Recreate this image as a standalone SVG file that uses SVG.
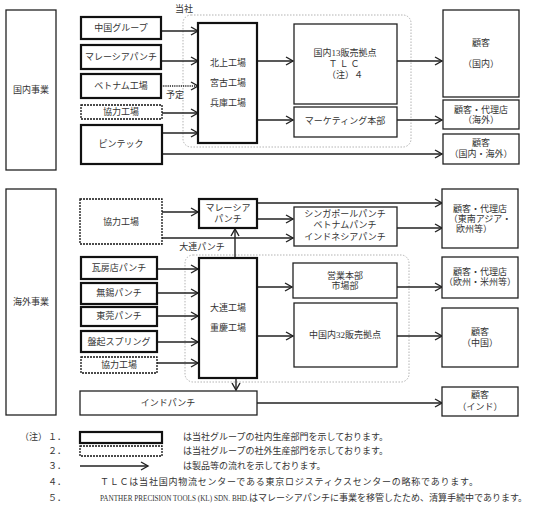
<svg xmlns="http://www.w3.org/2000/svg" width="550" height="507" viewBox="0 0 550 507">
<style>
text{font-family:"Liberation Serif","Noto Sans CJK JP",serif;font-size:9px;fill:#333;text-anchor:middle;dominant-baseline:central}
.l{text-anchor:start}
.thick{fill:#fff;stroke:#111;stroke-width:2.2}
.norm{fill:#fff;stroke:#222;stroke-width:1.3}
.dash{fill:#fff;stroke:#111;stroke-width:1.3;stroke-dasharray:2 1}
.grp{fill:none;stroke:#aaa;stroke-width:0.9;stroke-dasharray:1.5 1.5}
.c{fill:none;stroke:#222;stroke-width:1.4;marker-end:url(#ah)}
.dot{stroke-dasharray:1.2 1}
</style>
<defs>
<marker id="ah" markerUnits="userSpaceOnUse" markerWidth="9" markerHeight="9" refX="7" refY="4" orient="auto" overflow="visible">
<path d="M0,0 L7,4 L0,8" fill="none" stroke="#222" stroke-width="1.4"/>
</marker>
</defs>

<!-- group frames -->
<g id="frame-tosha">
<rect class="grp" x="183" y="15" width="228" height="132" rx="8"/>
<text x="184" y="9">当社</text>
</g>
<g id="frame-dalian">
<rect class="grp" x="185" y="255" width="224" height="127" rx="8"/>
<text x="202" y="247">大連パンチ</text>
</g>

<!-- connectors -->
<g id="connectors">
<path class="c" d="M161,31 H198"/>
<path class="c" d="M161,61 H198"/>
<path class="c dot" d="M161,86 H198"/>
<path class="c" d="M162,113 H198"/>
<path class="c" d="M162,133 H198"/>
<path class="c" d="M162,154 H442"/>
<path class="c" d="M257,61 H293"/>
<path class="c" d="M257,120 H293"/>
<path class="c" d="M397,61 H442"/>
<path class="c" d="M397,120 H442"/>

<path class="c" d="M162,212 H198"/>
<path class="c" d="M162,238 H293"/>
<path class="c" d="M257,203 H442"/>
<path class="c" d="M257,219 H293"/>
<path class="c" d="M397,228 H442"/>
<path class="c" d="M235,258 V229"/>
<path class="c" d="M157,269 H198"/>
<path class="c" d="M157,293 H198"/>
<path class="c" d="M157,316 H198"/>
<path class="c" d="M157,342 H198"/>
<path class="c" d="M157,363 H198"/>
<path class="c" d="M257,287 H292"/>
<path class="c" d="M257,336 H293"/>
<path class="c" d="M397,287 H442"/>
<path class="c" d="M397,336 H442"/>
<path class="c" d="M236,378 V390"/>
<path class="c" d="M257,403 H442"/>
<text x="175" y="95">予定</text>
</g>

<!-- domestic -->
<g id="kokunai-jigyo"><rect class="norm" x="6" y="10" width="50" height="160"/><text x="31" y="90">国内事業</text></g>
<g id="chugoku-group"><rect class="thick" x="81" y="17" width="80" height="22"/><text x="121" y="28">中国グループ</text></g>
<g id="malaysia-punch-1"><rect class="thick" x="81" y="45" width="80" height="24"/><text x="121" y="57">マレーシアパンチ</text></g>
<g id="vietnam-kojo"><rect class="thick" x="81" y="74" width="80" height="24"/><text x="121" y="86">ベトナム工場</text></g>
<g id="kyoryoku-1"><rect class="dash" x="81" y="105" width="81" height="14"/><text x="121" y="112">協力工場</text></g>
<g id="pintec"><rect class="thick" x="81" y="125" width="81" height="39"/><text x="121" y="144">ピンテック</text></g>
<g id="kitakami"><rect class="thick" x="198" y="23" width="59" height="120"/>
<text x="228" y="63">北上工場</text><text x="228" y="83">宮古工場</text><text x="228" y="103">兵庫工場</text></g>
<g id="tlc"><rect class="norm" x="294" y="24" width="103" height="80"/>
<text x="345" y="53">国内13販売拠点</text><text x="345" y="64" letter-spacing="2">ＴＬＣ</text><text x="345" y="75">（注）４</text></g>
<g id="marketing"><rect class="norm" x="294" y="107" width="103" height="30"/><text x="345" y="121">マーケティング本部</text></g>
<g id="kokyaku-kokunai"><rect class="norm" x="443" y="10" width="76" height="87"/><text x="481" y="43">顧客</text><text x="481" y="64">（国内）</text></g>
<g id="kokyaku-kaigai"><rect class="norm" x="443" y="100" width="76" height="29"/><text x="481" y="110">顧客・代理店</text><text x="481" y="120">（海外）</text></g>
<g id="kokyaku-naigai"><rect class="norm" x="443" y="134" width="76" height="30"/><text x="481" y="143">顧客</text><text x="481" y="154">（国内・海外）</text></g>

<!-- overseas -->
<g id="kaigai-jigyo"><rect class="norm" x="6" y="189" width="50" height="226"/><text x="31" y="302">海外事業</text></g>
<g id="kyoryoku-2"><rect class="dash" x="80" y="199" width="82" height="45"/><text x="121" y="222">協力工場</text></g>
<g id="malaysia-punch-2"><rect class="thick" x="199" y="199" width="58" height="29"/><text x="228" y="208">マレーシア</text><text x="228" y="219">パンチ</text></g>
<g id="singapore"><rect class="norm" x="294" y="207" width="103" height="39"/>
<text x="345" y="214">シンガポールパンチ</text><text x="345" y="225">ベトナムパンチ</text><text x="345" y="237">インドネシアパンチ</text></g>
<g id="gabo"><rect class="thick" x="81" y="257" width="76" height="22"/><text x="119" y="268">瓦房店パンチ</text></g>
<g id="wuxi"><rect class="thick" x="81" y="283" width="76" height="21"/><text x="119" y="293">無錫パンチ</text></g>
<g id="dongguan"><rect class="thick" x="81" y="307" width="76" height="19"/><text x="119" y="316">東莞パンチ</text></g>
<g id="panchi-spring"><rect class="thick" x="81" y="331" width="76" height="21"/><text x="119" y="342">盤起スプリング</text></g>
<g id="kyoryoku-3"><rect class="dash" x="81" y="357" width="76" height="16"/><text x="119" y="365">協力工場</text></g>
<g id="dalian"><rect class="thick" x="199" y="258" width="58" height="120"/><text x="228" y="308">大連工場</text><text x="228" y="328">重慶工場</text></g>
<g id="eigyo"><rect class="norm" x="293" y="263" width="104" height="35"/><text x="345" y="276">営業本部</text><text x="345" y="286">市場部</text></g>
<g id="china32"><rect class="norm" x="294" y="303" width="103" height="64"/><text x="345" y="335">中国内32販売拠点</text></g>
<g id="india-punch"><rect class="norm" x="80" y="391" width="177" height="24"/><text x="168" y="403">インドパンチ</text></g>
<g id="kokyaku-sea"><rect class="norm" x="442" y="189" width="76" height="59"/><text x="480" y="209">顧客・代理店</text><text x="480" y="219">（東南アジア・</text><text x="474" y="229">欧州等）</text></g>
<g id="kokyaku-euus"><rect class="norm" x="442" y="257" width="76" height="41"/><text x="480" y="272">顧客・代理店</text><text x="480" y="282">（欧州・米州等）</text></g>
<g id="kokyaku-china"><rect class="norm" x="442" y="308" width="76" height="59"/><text x="480" y="332">顧客</text><text x="480" y="343">（中国）</text></g>
<g id="kokyaku-india"><rect class="norm" x="442" y="387" width="76" height="29"/><text x="480" y="395">顧客</text><text x="480" y="407">（インド）</text></g>

<!-- notes -->
<g id="notes">
<text class="l" x="20" y="437">（注）</text>
<text class="l" x="48" y="437">１．</text>
<text class="l" x="48" y="451">２．</text>
<text class="l" x="48" y="466">３．</text>
<text class="l" x="48" y="482">４．</text>
<text class="l" x="48" y="498">５．</text>
<rect class="thick" x="80" y="432" width="82" height="11"/>
<rect class="dash" x="80" y="446" width="82" height="10"/>
<path class="c" d="M80,466 H148"/>
<text class="l" x="183" y="437">は当社グループの社内生産部門を示しております。</text>
<text class="l" x="183" y="451">は当社グループの社外生産部門を示しております。</text>
<text class="l" x="183" y="466">は製品等の流れを示しております。</text>
<text class="l" x="100" y="482" textLength="378" lengthAdjust="spacing">ＴＬＣは当社国内物流センターである東京ロジスティクスセンターの略称であります。</text>
<text class="l" transform="translate(100,498) scale(0.8,1)" x="0" y="0" font-size="8">PANTHER PRECISION TOOLS (KL) SDN. BHD.</text>
<text class="l" x="249" y="498">はマレーシアパンチに事業を移管したため、清算手続中であります。</text>
</g>
</svg>
